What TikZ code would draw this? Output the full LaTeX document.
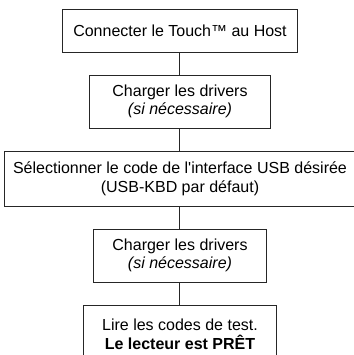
\documentclass[tikz,border=0pt]{standalone}
\usepackage{fontspec}
\setmainfont{Liberation Sans}[Ligatures=TeXOff]
\usetikzlibrary{positioning}
\begin{document}
\begin{tikzpicture}[x=0.75pt,y=-0.75pt,
		etape/.style={draw=black!85,line width=0.75pt,align=center,inner sep=0pt,font=\fontsize{12}{14}\selectfont},
		lien/.style={draw=black!85,line width=0.75pt},
		node distance=16.5pt]
			%cadre de la page
			\useasboundingbox (0,0) rectangle (354,355);
			%etapes
			\node[etape,minimum width=176pt,minimum height=32.25pt] (connecter) at (180,30.5) {Connecter le Touch™ au Host};
			\node[etape,minimum width=135.75pt,minimum height=39.75pt,below=of connecter] (drivers) {Charger les drivers\\\textit{(si nécessaire)}};
			\node[etape,minimum width=262.5pt,minimum height=41.25pt,below=of drivers] (interface) {Sélectionner le code de l'interface USB désirée\\(USB-KBD par défaut)};
			\node[etape,minimum width=130pt,minimum height=39.75pt,below=of interface] (drivers2) {Charger les drivers\\\textit{(si nécessaire)}};
			\node[etape,minimum width=145pt,minimum height=44pt,below=of drivers2] (pret) {Lire les codes de test.\\\textbf{Le lecteur est PRÊT}};
			%liens
			\draw[lien] (connecter)--(drivers);
			\draw[lien] (drivers)--(interface);
			\draw[lien] (interface)--(drivers2);
			\draw[lien] (drivers2)--(pret);
\end{tikzpicture}
\end{document}
